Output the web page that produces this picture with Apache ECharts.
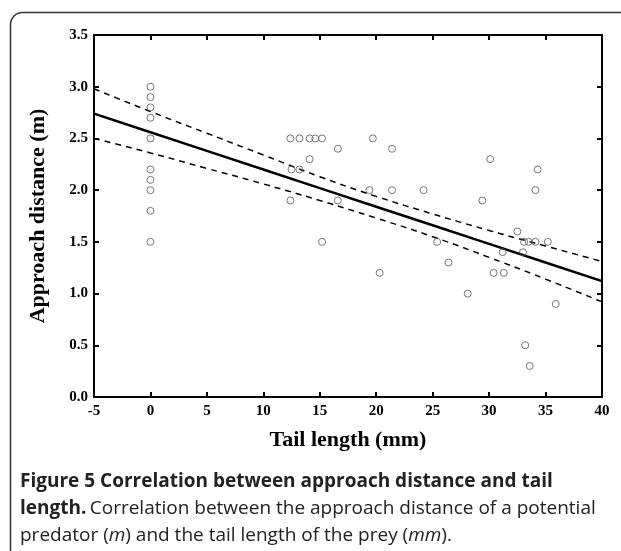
<!DOCTYPE html>
<html>
<head>
<meta charset="utf-8">
<script src="https://cdn.jsdelivr.net/npm/echarts@6/dist/echarts.min.js"></script>
<style>html,body{margin:0;padding:0;background:#fff;}#c{width:621px;height:551px;}</style>
</head>
<body>
<div id="c"></div>
<script>
// Observed data: tail length (mm) vs approach distance (m)
const tailLength = [0,0,0,0,0,0,0,0,0,0,
  12.4,13.2,14.1,14.6,15.2,16.6,19.7,21.4,14.1,12.5,13.2,19.4,21.4,24.2,12.4,16.6,15.2,20.3,
  29.4,32.5,33.1,33.5,34.1,35.2,25.4,31.2,33.0,26.4,30.4,31.3,28.1,35.9,33.2,33.6,30.1,34.3,34.1];
const approachDistance = [3.0,2.9,2.8,2.7,2.5,2.2,2.1,2.0,1.8,1.5,
  2.5,2.5,2.5,2.5,2.5,2.4,2.5,2.4,2.3,2.2,2.2,2.0,2.0,2.0,1.9,1.9,1.5,1.2,
  1.9,1.6,1.5,1.5,1.5,1.5,1.5,1.4,1.4,1.3,1.2,1.2,1.0,0.9,0.5,0.3,2.3,2.2,2.0];
// Regression line and confidence band
const fitX = [-5,0,5,10,15,20,25,30,35,40];
const fitY = [2.74,2.56,2.38,2.20,2.02,1.84,1.66,1.48,1.30,1.12];
const upperY = [2.98,2.76,2.55,2.34,2.13,1.94,1.77,1.61,1.46,1.31];
const lowerY = [2.50,2.36,2.21,2.06,1.90,1.73,1.55,1.35,1.14,0.92];
const xTicks = [-5,0,5,10,15,20,25,30,35,40];
const yTicks = [0,0.5,1,1.5,2,2.5,3,3.5];

const zip = (a, b) => a.map((v, i) => [v, b[i]]);
const serif = 'Liberation Serif';
const sans = 'Open Sans';

const chart = echarts.init(document.getElementById('c'));
const axisCommon = {
  type: 'value',
  axisLine: {show: true, onZero: false, lineStyle: {color: '#000', width: 2}},
  axisTick: {show: true, inside: true, length: 5, lineStyle: {color: '#000', width: 2}},
  splitLine: {show: false}
};
chart.setOption({
  animation: false,
  backgroundColor: '#fff',
  grid: {left: 94, right: 19, top: 35, bottom: 154},
  xAxis: [
    Object.assign({}, axisCommon, {
      position: 'bottom', min: -5, max: 40, interval: 5,
      name: 'Tail length (mm)', nameLocation: 'middle', nameGap: 32,
      nameTextStyle: {fontFamily: serif, fontWeight: 'bold', fontSize: 22, color: '#000'},
      axisLabel: {fontFamily: serif, fontWeight: 'bold', fontSize: 15, color: '#000', margin: 7,
        formatter: v => xTicks.includes(v) ? String(v) : ''}
    }),
    Object.assign({}, axisCommon, {
      position: 'top', min: -5, max: 40, interval: 5, axisLabel: {show: false}
    })
  ],
  yAxis: [
    Object.assign({}, axisCommon, {
      position: 'left', min: 0, max: 3.5, interval: 0.5,
      name: 'Approach distance (m)', nameLocation: 'middle', nameGap: 45,
      nameTextStyle: {fontFamily: serif, fontWeight: 'bold', fontSize: 22, color: '#000'},
      axisLabel: {fontFamily: serif, fontWeight: 'bold', fontSize: 15, color: '#000', margin: 6,
        formatter: v => yTicks.some(t => Math.abs(t - v) < 1e-9) ? v.toFixed(1) : ''}
    }),
    Object.assign({}, axisCommon, {
      position: 'right', min: 0, max: 3.5, interval: 0.5, axisLabel: {show: false}
    })
  ],
  series: [
    {
      type: 'line', data: zip(fitX, upperY), smooth: true, symbol: 'none',
      lineStyle: {color: '#000', width: 1.5, type: [6, 5]}, z: 2
    },
    {
      type: 'line', data: zip(fitX, lowerY), smooth: true, symbol: 'none',
      lineStyle: {color: '#000', width: 1.5, type: [6, 5]}, z: 2
    },
    {
      type: 'line', data: zip(fitX, fitY), symbol: 'none',
      lineStyle: {color: '#000', width: 2.5}, z: 3
    },
    {
      type: 'scatter', data: zip(tailLength, approachDistance), symbol: 'circle', symbolSize: 7,
      itemStyle: {color: 'rgba(255,255,255,0)', borderColor: '#555', borderWidth: 1}, z: 4
    }
  ],
  graphic: [
    {
      type: 'rect', silent: true, z: -1,
      shape: {x: 10.5, y: 12.5, width: 700, height: 700, r: [12, 0, 0, 0]},
      style: {fill: 'rgba(0,0,0,0)', stroke: '#333', lineWidth: 1.5}
    },
    {
      type: 'text', left: 20, top: 472,
      style: {
        text: '{b|Figure 5 Correlation between approach distance and tail}\n{b|length.} {r|Correlation between the approach distance of a potential}\n{r|predator (}{i|m}{r|) and the tail length of the prey (}{i|mm}{r|).}',
        fill: '#222',
        rich: {
          b: {fontFamily: sans, fontWeight: 'bold', fontSize: 19, lineHeight: 27, fill: '#222'},
          r: {fontFamily: sans, fontSize: 19, lineHeight: 27, fill: '#222'},
          i: {fontFamily: sans, fontStyle: 'italic', fontSize: 19, lineHeight: 27, fill: '#222'}
        }
      }
    }
  ]
});
</script>
</body>
</html>
